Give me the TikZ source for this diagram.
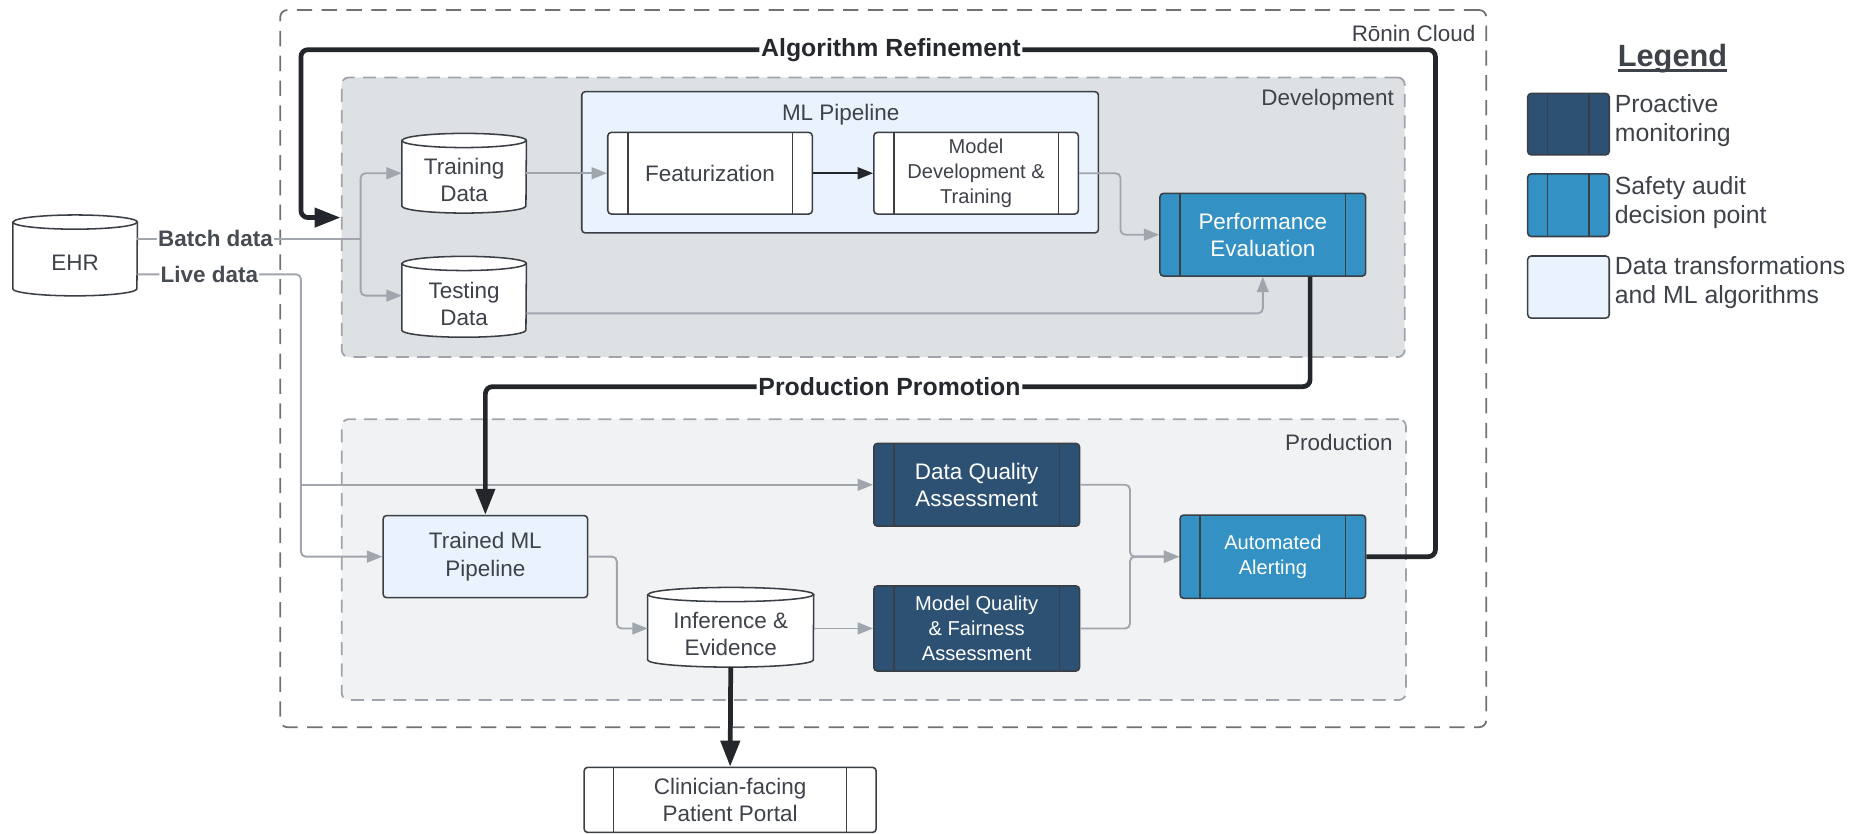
\documentclass[tikz,border=0pt]{standalone}
\usepackage{fontspec}
\setmainfont{Liberation Sans}
\usetikzlibrary{arrows.meta,calc}

\definecolor{ink}{HTML}{3E4249}
\definecolor{inkdark}{HTML}{25282D}
\definecolor{wiretext}{HTML}{474B52}
\definecolor{edge}{HTML}{3A3E45}
\definecolor{wirecol}{HTML}{A1A5AC}
\definecolor{heavycol}{HTML}{23262B}
\definecolor{cloudline}{HTML}{6F7175}
\definecolor{zoneline}{HTML}{A0A4AA}
\definecolor{devfill}{HTML}{DEE1E4}
\definecolor{prodfill}{HTML}{F1F2F4}
\definecolor{paleblue}{HTML}{EAF2FD}
\definecolor{auditblue}{HTML}{3491C3}
\definecolor{monitornavy}{HTML}{2D5172}

\pgfdeclarelayer{zones}
\pgfdeclarelayer{drums}
\pgfsetlayers{zones,drums,main}

% data store drawn round the body node #1, half width #2 (pt)
\newcommand\drumbody[2]{%
  \begin{pgfonlayer}{drums}
    \draw[drumline] ($(#1.north west)+(0,-6)$) -- ($(#1.south west)+(0,-6)$)
      arc[start angle=180, end angle=360, x radius=#2pt, y radius=6pt]
      -- ($(#1.north east)+(0,-6)$)
      arc[start angle=0, end angle=180, x radius=#2pt, y radius=6pt] -- cycle;
    \draw[drumline, fill=none] ($(#1.north west)+(0,-6)$)
      arc[start angle=180, end angle=360, x radius=#2pt, y radius=6pt];
  \end{pgfonlayer}}

\tikzset{
  txt/.style={font=\fontsize{19}{23}\selectfont, text=ink, align=center},
  smalltxt/.style={font=\fontsize{17}{21}\selectfont},
  box/.style={draw=edge, line width=1.3pt, rounded corners=3pt, inner sep=0pt, txt},
  sidebars/.style={path picture={
      \draw[edge, line width=1.2pt]
        ([xshift=#1]path picture bounding box.north west) -- ([xshift=#1]path picture bounding box.south west)
        ([xshift=-#1]path picture bounding box.north east) -- ([xshift=-#1]path picture bounding box.south east);}},
  procwhite/.style={box, fill=white, sidebars=#1},
  procwhite/.default=17pt,
  procaudit/.style={box, fill=auditblue, text=white, sidebars=17pt},
  procmonitor/.style={box, fill=monitornavy, text=white, sidebars=17pt},
  algbox/.style={box, fill=paleblue},
  drum/.style={txt, inner sep=0pt},
  drumline/.style={draw=edge, fill=white, line width=1.3pt},
  cloudzone/.style={draw=cloudline, line width=1.5pt, dash pattern=on 13pt off 8pt, rounded corners=6pt, inner sep=0pt},
  zonebox/.style={draw=zoneline, line width=1.5pt, dash pattern=on 11pt off 7pt, rounded corners=6pt, inner sep=0pt},
  zonetxt/.style={font=\fontsize{19}{23}\selectfont, text=ink, inner sep=0pt},
  legtxt/.style={font=\fontsize{21}{24.5}\selectfont, text=ink, align=left, inner sep=0pt},
  wire/.style={draw=wirecol, line width=1.6pt, rounded corners=4pt},
  wirearrow/.style={wire, -{Triangle[length=13pt, width=10pt]}},
  darkarrow/.style={draw=heavycol, line width=1.6pt, -{Triangle[length=13pt, width=10pt]}},
  heavyarrow/.style={draw=heavycol, line width=4pt, rounded corners=6pt, -{Triangle[length=22pt, width=16pt]}},
  wirelbl/.style={fill=white, inner xsep=1pt, inner ysep=0.5pt, font=\bfseries\fontsize{19}{23}\selectfont, text=wiretext},
  heavylbl/.style={fill=white, inner xsep=1.5pt, inner ysep=1pt, font=\bfseries\fontsize{21}{25}\selectfont, text=inkdark}
}

\begin{document}
\begin{tikzpicture}[x=1pt, y=-1pt]
\useasboundingbox (0,0) rectangle (1568,705);

% ---- zones ----
\begin{pgfonlayer}{zones}
  \node[cloudzone, minimum width=1020pt, minimum height=606.5pt] (cloud) at (747,311.75) {};
  \node[zonebox, fill=devfill, minimum width=899pt, minimum height=236.5pt] (dev) at (738.5,183.75) {};
  \node[zonebox, fill=prodfill, minimum width=900pt, minimum height=237.5pt] (prod) at (739,473.25) {};
\end{pgfonlayer}
\node[zonetxt, anchor=east] (cloudlbl) at (1248,28) {Rōnin Cloud};
\node[zonetxt, anchor=east] (devlbl) at (1179,84.6) {Development};
\node[zonetxt, anchor=east] (prodlbl) at (1178,374.6) {Production};

% ---- development ----
\node[algbox, minimum width=437pt, minimum height=119.5pt] (mlp) at (710.5,137.25) {};
\node[txt, inner sep=0pt] (mlplbl) at (711,97) {ML Pipeline};
\node[procwhite, minimum width=173pt, minimum height=69pt] (feat) at (600.5,146.5) {Featurization};
\node[procwhite, smalltxt, minimum width=173pt, minimum height=69pt] (mdt) at (825.5,146.5) {Model\\Development \&\\Training};
\node[procaudit, minimum width=174pt, minimum height=70pt] (pe) at (1068,198.5) {Performance\\Evaluation};

% ---- data stores ----
\node[drum, minimum width=105pt, minimum height=56pt] (ehr) at (63.5,222) {EHR};
\node[drum, minimum width=105pt, minimum height=55pt] (tr) at (392.5,152.5) {Training\\Data};
\node[drum, minimum width=105pt, minimum height=56pt] (te) at (392.5,257) {Testing\\Data};
\node[drum, minimum width=140pt, minimum height=55pt] (inf) at (618,536.5) {Inference \&\\Evidence};
\drumbody{ehr}{52.5}
\drumbody{tr}{52.5}
\drumbody{te}{52.5}
\drumbody{inf}{70}

% ---- production ----
\node[algbox, minimum width=173pt, minimum height=69.5pt] (tml) at (410.5,470.75) {Trained ML\\Pipeline};
\node[procmonitor, minimum width=174pt, minimum height=70pt] (dqa) at (826,410) {Data Quality\\Assessment};
\node[procmonitor, smalltxt, minimum width=174pt, minimum height=72pt] (mqf) at (826,531.5) {Model Quality\\\& Fairness\\Assessment};
\node[procaudit, smalltxt, minimum width=157pt, minimum height=70.4pt] (aa) at (1076.5,470.8) {Automated\\Alerting};
\node[procwhite=25pt, minimum width=247pt, minimum height=55pt] (portal) at (617.5,676.5) {Clinician-facing\\Patient Portal};

% ---- legend ----
\node[txt, font=\bfseries\fontsize{26}{30}\selectfont, inner sep=0pt] (legendtitle) at (1414.5,49.5) {Legend};
\draw[ink, line width=2pt] ([yshift=-3.5pt]legendtitle.base west) -- ([yshift=-3.5pt]legendtitle.base east);
\node[procmonitor, minimum width=69pt, minimum height=52pt] (lg1) at (1326.5,105) {};
\node[procaudit, minimum width=69pt, minimum height=53pt] (lg2) at (1326.5,173.5) {};
\node[algbox, minimum width=69pt, minimum height=52.5pt] (lg3) at (1326.5,242.75) {};
\node[legtxt, anchor=west] (lt1) at (1365.5,102) {Proactive\\monitoring};
\node[legtxt, anchor=west] (lt2) at (1365.5,171.5) {Safety audit\\decision point};
\node[legtxt, anchor=west] (lt3) at (1365.5,239) {Data transformations\\and ML algorithms};

% ---- data flow ----
\coordinate (bsplit) at (305,202);
\draw[wire] ([yshift=20pt]ehr.east) -- node[wirelbl, pos=0.35] (batchlbl) {Batch data} (bsplit);
\draw[wirearrow] (bsplit) |- ([yshift=6pt]tr.west);
\draw[wirearrow] (bsplit) |- ([yshift=7pt]te.west);
\draw[wirearrow] ([yshift=6pt]tr.east) -- (feat.west);
\draw[darkarrow] (feat.east) -- (mdt.west);
\draw[wirearrow] (mdt.east) -- ++(35,0) |- (pe.west);
\draw[wirearrow] ([yshift=-8pt]te.east) -| (pe.south);

\coordinate (lturn) at (254.5,232);
\draw[wirearrow] ([yshift=-10pt]ehr.east) -- node[wirelbl, pos=0.44] (livelbl) {Live data} (lturn) |- (tml.west);
\draw[wirearrow] (lturn |- dqa.west) -- (dqa.west);

\draw[wirearrow] (tml.east) -- ++(24,0) |- ([yshift=5pt]inf.west);
\draw[wirearrow] ([yshift=5pt]inf.east) -- (mqf.west);
\draw[wirearrow] (dqa.east) -- ++(42,0) |- (aa.west);
\draw[wirearrow] (mqf.east) -- ++(42,0) |- (aa.west);

% ---- heavy loops ----
\coordinate (artr) at (1214,42);
\coordinate (artl) at (254.5,42);
\coordinate (arin) at (288,184);
\draw[heavyarrow] (aa.east) -| (artr) -- node[heavylbl, pos=0.48] (arlbl) {Algorithm Refinement} (artl) |- (arin);

\coordinate (ppr) at (1108,327);
\coordinate (ppl) at (410.5,327);
\draw[heavyarrow] (pe.south -| ppr) -- (ppr) -- node[heavylbl, pos=0.51] (pplbl) {Production Promotion} (ppl) -- (tml.north);

\draw[heavyarrow] (inf.south) -- (portal.north);
\end{tikzpicture}
\end{document}
